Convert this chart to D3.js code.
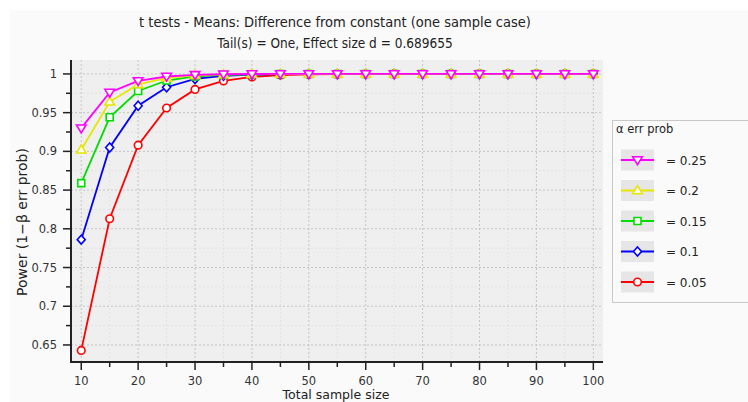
<!DOCTYPE html>
<html>
<head>
<meta charset="utf-8">
<script src="https://cdn.jsdelivr.net/npm/d3@7"></script>
<style>
  body { margin: 0; background: #fff; }
  svg { display: block; }
  .tick-label { font-family: "DejaVu Sans", sans-serif; font-size: 11.5px; fill: #333; }
</style>
</head>
<body>
<script>
// Data
const sampleSizes = [10, 15, 20, 25, 30, 35, 40, 45, 50, 55, 60, 65, 70, 75, 80, 85, 90, 95, 100];
const alphas = [0.25, 0.2, 0.15, 0.1, 0.05];
const power025 = [0.930, 0.976, 0.991, 0.9967, 0.9989, 0.9996, 0.9999, 1, 1, 1, 1, 1, 1, 1, 1, 1, 1, 1, 1];
const power020 = [0.902, 0.964, 0.9865, 0.9950, 0.9982, 0.9994, 0.9998, 0.9999, 1, 1, 1, 1, 1, 1, 1, 1, 1, 1, 1];
const power015 = [0.859, 0.944, 0.978, 0.9915, 0.9968, 0.9988, 0.9996, 0.9998, 0.9999, 1, 1, 1, 1, 1, 1, 1, 1, 1, 1];
const power010 = [0.786, 0.905, 0.959, 0.9828, 0.9935, 0.9975, 0.9991, 0.9997, 0.9999, 1, 1, 1, 1, 1, 1, 1, 1, 1, 1];
const power005 = [0.643, 0.813, 0.908, 0.9560, 0.9800, 0.9910, 0.9962, 0.9985, 0.9994, 0.9997, 0.9999, 1, 1, 1, 1, 1, 1, 1, 1];
const xTicks = [10, 20, 30, 40, 50, 60, 70, 80, 90, 100];
const yTicks = [0.65, 0.7, 0.75, 0.8, 0.85, 0.9, 0.95, 1];

const seriesValues = [power025, power020, power015, power010, power005];
const colors = ['#ff00ff', '#e6e600', '#00dd00', '#0000ff', '#ff0000'];
const markers = ['triDown', 'triUp', 'square', 'diamond', 'circle'];

const width = 748, height = 402;
const plot = { left: 71, right: 603, top: 60, bottom: 362 };

const svg = d3.select('body').append('svg')
    .attr('width', width)
    .attr('height', height);

// Panel background
svg.append('rect')
    .attr('x', 10).attr('y', 10)
    .attr('width', width - 10).attr('height', height - 10)
    .attr('fill', '#fafafa');

// Titles
svg.append('text')
    .attr('x', 335).attr('y', 27)
    .attr('text-anchor', 'middle')
    .style('font-family', '"Liberation Sans Narrow", "DejaVu Sans Condensed", sans-serif')
    .style('font-size', '14.5px')
    .style('fill', '#222')
    .text('t tests - Means: Difference from constant (one sample case)');

svg.append('text')
    .attr('x', 335).attr('y', 48)
    .attr('text-anchor', 'middle')
    .style('font-family', '"Liberation Sans Narrow", "DejaVu Sans Condensed", sans-serif')
    .style('font-size', '13.5px')
    .style('fill', '#222')
    .text('Tail(s) = One, Effect size d = 0.689655');

const x = d3.scaleLinear().domain([8.2, 101.7]).range([plot.left, plot.right]);
const y = d3.scaleLinear().domain([0.628, 1.018]).range([plot.bottom, plot.top]);

// Plot background
svg.append('rect')
    .attr('x', plot.left).attr('y', plot.top)
    .attr('width', plot.right - plot.left).attr('height', plot.bottom - plot.top)
    .attr('fill', '#efefef');

// Grid: minor then major
const grid = svg.append('g');
const xMinor = xTicks.map(d => d + 5).filter(d => d < 101);
const yMinor = yTicks.map(d => d - 0.025).filter(d => d > 0.628);

grid.selectAll('.xminor').data(xMinor).enter().append('line')
    .attr('x1', d => x(d)).attr('x2', d => x(d))
    .attr('y1', plot.top).attr('y2', plot.bottom)
    .attr('stroke', '#e2e2e2').attr('stroke-dasharray', '2,2');
grid.selectAll('.yminor').data(yMinor).enter().append('line')
    .attr('x1', plot.left).attr('x2', plot.right)
    .attr('y1', d => y(d)).attr('y2', d => y(d))
    .attr('stroke', '#e2e2e2').attr('stroke-dasharray', '2,2');
grid.selectAll('.xmajor').data(xTicks).enter().append('line')
    .attr('x1', d => x(d)).attr('x2', d => x(d))
    .attr('y1', plot.top).attr('y2', plot.bottom)
    .attr('stroke', '#c4c4c4').attr('stroke-dasharray', '2,2');
grid.selectAll('.ymajor').data(yTicks).enter().append('line')
    .attr('x1', plot.left).attr('x2', plot.right)
    .attr('y1', d => y(d)).attr('y2', d => y(d))
    .attr('stroke', '#c4c4c4').attr('stroke-dasharray', '2,2');

// Axes
const xAxis = svg.append('g').attr('transform', `translate(0,${plot.bottom})`);
xAxis.append('line')
    .attr('x1', plot.left).attr('x2', plot.right)
    .attr('stroke', '#222').attr('stroke-width', 2);
xAxis.selectAll('.tmin').data(xMinor).enter().append('line')
    .attr('x1', d => x(d)).attr('x2', d => x(d))
    .attr('y1', 0).attr('y2', 5)
    .attr('stroke', '#222').attr('stroke-width', 1.5);
xAxis.selectAll('.tmaj').data(xTicks).enter().append('line')
    .attr('x1', d => x(d)).attr('x2', d => x(d))
    .attr('y1', 0).attr('y2', 8)
    .attr('stroke', '#222').attr('stroke-width', 1.5);
xAxis.selectAll('.tl').data(xTicks).enter().append('text')
    .attr('class', 'tick-label')
    .attr('x', d => x(d)).attr('y', 23)
    .attr('text-anchor', 'middle')
    .text(d => d);

const yAxis = svg.append('g').attr('transform', `translate(${plot.left},0)`);
yAxis.append('line')
    .attr('y1', plot.top).attr('y2', plot.bottom + 1)
    .attr('stroke', '#222').attr('stroke-width', 2);
yAxis.selectAll('.tmin').data(yMinor.concat([1.025])).enter().append('line')
    .filter(d => d < 1.018)
    .attr('y1', d => y(d)).attr('y2', d => y(d))
    .attr('x1', 0).attr('x2', -5)
    .attr('stroke', '#222').attr('stroke-width', 1.5);
yAxis.selectAll('.tmaj').data(yTicks).enter().append('line')
    .attr('y1', d => y(d)).attr('y2', d => y(d))
    .attr('x1', 0).attr('x2', -8)
    .attr('stroke', '#222').attr('stroke-width', 1.5);
yAxis.selectAll('.tl').data(yTicks).enter().append('text')
    .attr('class', 'tick-label')
    .attr('x', -14).attr('y', d => y(d))
    .attr('dy', '0.35em')
    .attr('text-anchor', 'end')
    .text(d => d3.format('')(d));

// Axis titles
svg.append('text')
    .attr('x', 336).attr('y', 399)
    .attr('text-anchor', 'middle')
    .style('font-family', '"DejaVu Sans", sans-serif')
    .style('font-size', '12.5px')
    .style('fill', '#222')
    .text('Total sample size');

svg.append('text')
    .attr('transform', 'translate(27,222) rotate(-90)')
    .attr('text-anchor', 'middle')
    .style('font-family', '"DejaVu Sans", sans-serif')
    .style('font-size', '14px')
    .style('fill', '#222')
    .text('Power (1−β err prob)');

// Marker shapes
function markerPath(type, cx, cy) {
    const s = 4.2;
    if (type === 'square') return `M${cx - 3.5},${cy - 3.5}h7v7h-7z`;
    if (type === 'diamond') return `M${cx},${cy - 4.5}L${cx + 4},${cy}L${cx},${cy + 4.5}L${cx - 4},${cy}z`;
    if (type === 'triUp') return `M${cx},${cy - s - 0.5}L${cx + s + 0.6},${cy + s - 1}L${cx - s - 0.6},${cy + s - 1}z`;
    return `M${cx},${cy + s + 0.5}L${cx + s + 0.6},${cy - s + 1}L${cx - s - 0.6},${cy - s + 1}z`;
}

function drawMarker(g, type, cx, cy, color) {
    if (type === 'circle') {
        g.append('circle').attr('cx', cx).attr('cy', cy).attr('r', 3.8)
            .attr('fill', '#fff').attr('stroke', color).attr('stroke-width', 1.6);
    } else {
        g.append('path').attr('d', markerPath(type, cx, cy))
            .attr('fill', '#fff').attr('stroke', color).attr('stroke-width', 1.6);
    }
}

const line = d3.line()
    .x((d, i) => x(sampleSizes[i]))
    .y(d => y(d));

// Draw red first so magenta ends on top
[4, 3, 2, 1, 0].forEach(k => {
    const g = svg.append('g');
    g.append('path')
        .datum(seriesValues[k])
        .attr('d', line)
        .attr('fill', 'none')
        .attr('stroke', colors[k])
        .attr('stroke-width', 1.8);
    seriesValues[k].forEach((v, i) => drawMarker(g, markers[k], x(sampleSizes[i]), y(v), colors[k]));
});

// Legend
const legend = svg.append('g');
legend.append('rect')
    .attr('x', 612.5).attr('y', 120.5)
    .attr('width', 150).attr('height', 182)
    .attr('fill', '#fafafa')
    .attr('stroke', '#c8c8c8');
legend.append('text')
    .attr('x', 616).attr('y', 133)
    .style('font-family', '"DejaVu Sans", sans-serif')
    .style('font-size', '11.5px')
    .style('fill', '#222')
    .text('α err prob');

alphas.forEach((a, k) => {
    const cy = 160 + k * 30.5;
    legend.append('rect')
        .attr('x', 621).attr('y', cy - 10.5)
        .attr('width', 33).attr('height', 21)
        .attr('fill', '#e6e6e6');
    legend.append('line')
        .attr('x1', 621).attr('x2', 654)
        .attr('y1', cy).attr('y2', cy)
        .attr('stroke', colors[k]).attr('stroke-width', 1.8);
    drawMarker(legend, markers[k], 637.5, cy, colors[k]);
    legend.append('text')
        .attr('x', 666).attr('y', cy)
        .attr('dy', '0.38em')
        .style('font-family', '"DejaVu Sans", sans-serif')
        .style('font-size', '12px')
        .style('fill', '#222')
        .text('= ' + a);
});
</script>
</body>
</html>
